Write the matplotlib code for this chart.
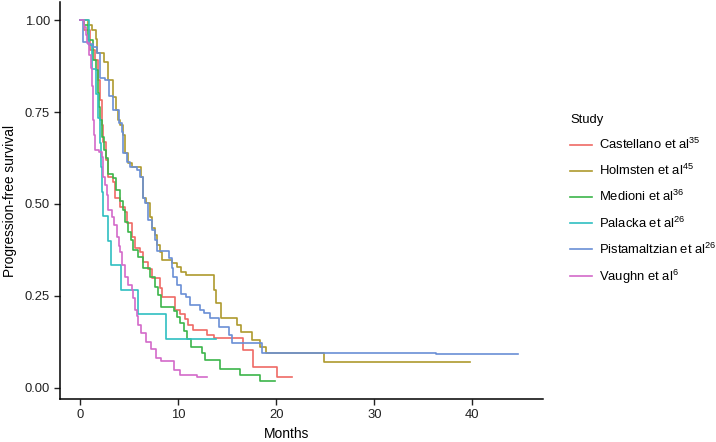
import matplotlib
matplotlib.use("Agg")
import matplotlib.pyplot as plt
from matplotlib.lines import Line2D

plt.rcParams["font.family"] = ["Liberation Sans", "DejaVu Sans"]
plt.rcParams["mathtext.fontset"] = "custom"
plt.rcParams["mathtext.rm"] = "Liberation Sans"

# Kaplan-Meier steps: drop times (months), survival after drop, last follow-up
studies = ["Castellano et al", "Holmsten et al", "Medioni et al",
           "Palacka et al", "Pistamaltzian et al", "Vaughn et al"]
refs = ["35", "45", "36", "26", "26", "6"]
colors = ["#EF6A65", "#AE9A2D", "#3CB54A", "#2FBFC1", "#6A8FD6", "#D36AC9"]

castellano_t = [0.4, 1.0, 1.5, 1.8, 2.0, 2.2, 2.37, 2.69, 2.87, 3.38, 3.55, 4.06, 4.57, 4.77,
                5.28, 5.58, 6.09, 6.43, 6.93, 7.31, 8.12, 8.32, 9.64, 10.15, 10.66, 11.0, 11.5,
                12.9, 13.7, 16.6, 17.6, 20.1]
castellano_s = [0.973, 0.918, 0.891, 0.837, 0.783, 0.715, 0.668, 0.620, 0.573, 0.560, 0.516,
                0.492, 0.478, 0.448, 0.410, 0.380, 0.370, 0.342, 0.323, 0.299, 0.272, 0.247,
                0.212, 0.201, 0.188, 0.171, 0.158, 0.144, 0.135, 0.103, 0.057, 0.030]
castellano_end = 21.6

holmsten_t = [0.81, 1.22, 1.62, 1.73, 2.44, 2.84, 3.35, 3.65, 3.86, 4.06, 4.33, 4.57, 4.87,
              5.25, 6.26, 6.40, 6.77, 7.11, 7.31, 7.61, 7.82, 8.12, 8.32, 9.34, 9.85, 10.25,
              10.76, 13.7, 13.9, 14.4, 16.0, 16.4, 17.5, 18.3, 19.0, 24.9]
holmsten_s = [0.986, 0.973, 0.948, 0.910, 0.886, 0.837, 0.791, 0.755, 0.728, 0.715, 0.688,
              0.639, 0.611, 0.601, 0.573, 0.516, 0.503, 0.465, 0.435, 0.416, 0.389, 0.370,
              0.348, 0.340, 0.329, 0.315, 0.307, 0.266, 0.231, 0.190, 0.171, 0.152, 0.130,
              0.111, 0.095, 0.071]
holmsten_end = 39.8

medioni_t = [0.4, 0.8, 1.32, 1.62, 1.78, 1.93, 2.08, 2.28, 2.44, 2.6, 2.84, 3.35, 3.71, 4.06,
             4.37, 4.62, 4.87, 5.18, 5.43, 5.94, 6.40, 7.11, 7.61, 7.92, 8.22, 9.54, 9.85,
             10.15, 10.56, 10.86, 11.27, 12.39, 12.69, 14.3, 16.3, 18.3]
medioni_s = [0.986, 0.946, 0.891, 0.864, 0.802, 0.764, 0.728, 0.682, 0.647, 0.625, 0.582,
             0.571, 0.538, 0.508, 0.484, 0.451, 0.424, 0.402, 0.375, 0.356, 0.326, 0.302,
             0.274, 0.253, 0.220, 0.209, 0.193, 0.177, 0.155, 0.133, 0.111, 0.095, 0.076,
             0.052, 0.035, 0.019]
medioni_end = 19.9

palacka_t = [0.91, 1.2, 1.6, 1.8, 2.0, 2.1, 2.2, 2.3, 2.8, 3.2, 4.16, 5.86, 8.8]
palacka_s = [0.933, 0.867, 0.8, 0.733, 0.667, 0.6, 0.533, 0.467, 0.4, 0.333, 0.267, 0.2, 0.133]
palacka_end = 13.9

pistamaltzian_t = [0.3, 0.81, 1.32, 1.73, 2.03, 2.54, 2.94, 3.35, 3.96, 4.26, 4.42, 4.77, 5.08,
                   5.79, 6.09, 6.40, 6.60, 6.90, 7.31, 7.61, 7.82, 9.04, 9.34, 9.49, 9.85,
                   10.25, 10.76, 11.17, 12.18, 12.6, 13.2, 14.2, 15.2, 15.5, 18.5, 36.3]
pistamaltzian_s = [0.940, 0.935, 0.927, 0.910, 0.842, 0.837, 0.793, 0.755, 0.720, 0.696, 0.639,
                   0.614, 0.601, 0.592, 0.573, 0.516, 0.503, 0.457, 0.429, 0.402, 0.372, 0.353,
                   0.326, 0.302, 0.280, 0.255, 0.247, 0.226, 0.212, 0.204, 0.190, 0.165, 0.144,
                   0.122, 0.095, 0.091]
pistamaltzian_end = 44.6

vaughn_t = [0.4, 0.56, 0.71, 0.91, 1.07, 1.17, 1.27, 1.35, 1.42, 1.52, 1.93, 2.2, 2.34, 2.54,
            2.71, 2.87, 3.22, 3.45, 3.73, 3.96, 4.11, 4.23, 4.57, 4.9, 5.25, 5.41, 5.58, 5.76,
            5.92, 6.26, 6.77, 7.28, 7.79, 8.29, 9.54, 10.15, 11.9]
vaughn_s = [0.981, 0.959, 0.938, 0.905, 0.870, 0.821, 0.783, 0.728, 0.688, 0.647, 0.641, 0.628,
            0.573, 0.552, 0.524, 0.484, 0.465, 0.443, 0.410, 0.386, 0.370, 0.334, 0.302, 0.280,
            0.266, 0.245, 0.212, 0.196, 0.171, 0.149, 0.125, 0.106, 0.082, 0.073, 0.049, 0.034,
            0.029]
vaughn_end = 12.9

curves = [
    (castellano_t, castellano_s, castellano_end),
    (holmsten_t, holmsten_s, holmsten_end),
    (medioni_t, medioni_s, medioni_end),
    (palacka_t, palacka_s, palacka_end),
    (pistamaltzian_t, pistamaltzian_s, pistamaltzian_end),
    (vaughn_t, vaughn_s, vaughn_end),
]

W, H = 716, 442
fig = plt.figure(figsize=(W / 100, H / 100), dpi=100)
ax = fig.add_axes([59.5 / W, 43 / H, (543 - 59.5) / W, (399 - 2) / H])

for i, (t, s, end) in enumerate(curves):
    xs = [0] + list(t) + [end]
    ys = [1.0] + list(s) + [s[-1]]
    ax.step(xs, ys, where="post", color=colors[i], lw=1.2, zorder=2 + i)

ax.set_xlim(-2.1, 47.2)
ax.set_ylim(-0.030, 1.049)
ax.set_xticks([0, 10, 20, 30, 40])
ax.set_yticks([0, 0.25, 0.5, 0.75, 1.0])
ax.set_yticklabels(["0.00", "0.25", "0.50", "0.75", "1.00"])
for sp in ["top", "right"]:
    ax.spines[sp].set_visible(False)
for sp in ["left", "bottom"]:
    ax.spines[sp].set_linewidth(1.1)
ax.tick_params(length=4, width=1.0, labelsize=9.4, colors="#222222", pad=3)

ax.set_xlabel("Months", fontsize=9.9)
ax.set_ylabel("Progression-free survival", fontsize=9.9)
ax.xaxis.set_label_coords(0.47, -0.070)
ax.yaxis.set_label_coords(-0.088, 0.5)

handles = [Line2D([], [], color=c, lw=1.2) for c in colors]
labels = [f"{name}$^{{\\mathregular{{{r}}}}}$" for name, r in zip(studies, refs)]
leg = fig.legend(handles, labels, title="Study", loc="upper left",
                 bbox_to_anchor=(570 / W, 1 - 114 / H), frameon=False,
                 fontsize=9.4, title_fontsize=9.4, handlelength=1.7,
                 handletextpad=0.55, labelspacing=0.84, borderpad=0,
                 borderaxespad=0, alignment="left")

fig.savefig("out.png", dpi=100)
